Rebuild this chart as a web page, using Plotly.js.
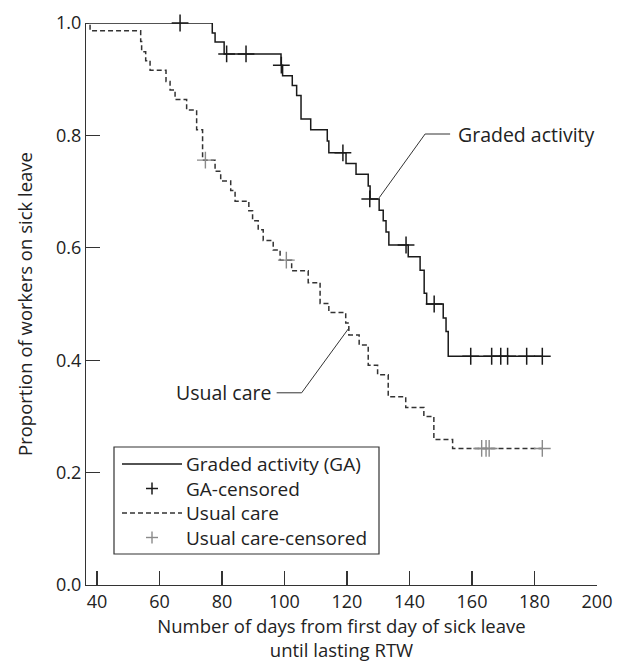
<!DOCTYPE html>
<html>
<head>
<meta charset="utf-8">
<script src="https://cdn.plot.ly/plotly-3.0.1.min.js"></script>
<style>html,body{margin:0;padding:0;background:#fff;}#chart{width:617px;height:663px;}</style>
</head>
<body>
<div id="chart"></div>
<script>
// ---- Data ----
const gaTime = [0, 76.9, 77.8, 80.7, 98.9, 99.4, 102.5, 103.9, 105.3, 108.4, 113.7, 114.2, 119.7, 122.9, 126.8, 127.4, 130.3, 131.6, 132.5, 133.4, 139.6, 143.4, 144.7, 145.5, 150.8, 151.7, 152.4, 182.5];
const gaSurv = [1.0, 0.982, 0.966, 0.945, 0.925, 0.906, 0.889, 0.871, 0.829, 0.810, 0.790, 0.769, 0.750, 0.731, 0.710, 0.687, 0.667, 0.648, 0.628, 0.605, 0.584, 0.560, 0.519, 0.500, 0.475, 0.451, 0.407, 0.407];
const gaCensTime = [66.6, 81.5, 87.7, 99.0, 118.7, 127.3, 138.9, 147.9, 159.6, 166.3, 169.2, 171.4, 177.5, 182.5];
const gaCensSurv = [1.0, 0.945, 0.945, 0.925, 0.769, 0.687, 0.605, 0.500, 0.407, 0.407, 0.407, 0.407, 0.407, 0.407];

const ucTime = [0, 37.8, 54.0, 54.3, 55.6, 57.0, 62.1, 63.4, 65.0, 68.7, 71.9, 73.8, 77.8, 79.6, 82.8, 84.2, 88.6, 89.8, 91.6, 93.2, 96.4, 98.6, 102.3, 107.6, 111.4, 114.2, 119.6, 120.6, 123.9, 126.8, 129.8, 133.2, 138.8, 144.6, 147.8, 153.8, 182.5];
const ucSurv = [1.0, 0.986, 0.967, 0.949, 0.933, 0.916, 0.896, 0.881, 0.864, 0.845, 0.810, 0.756, 0.736, 0.719, 0.702, 0.683, 0.666, 0.648, 0.632, 0.613, 0.596, 0.578, 0.559, 0.538, 0.501, 0.485, 0.466, 0.445, 0.427, 0.391, 0.374, 0.335, 0.316, 0.300, 0.259, 0.243, 0.243];
const ucCensTime = [74.7, 100.6, 163.1, 164.5, 165.5, 182.5];
const ucCensSurv = [0.756, 0.578, 0.243, 0.243, 0.243, 0.243];

const xTicks = [40, 60, 80, 100, 120, 140, 160, 180, 200];
const yTicks = [0, 0.2, 0.4, 0.6, 0.8, 1.0];
const yTickText = ['0.0', '0.2', '0.4', '0.6', '0.8', '1.0'];

const legendLabels = ['Graded activity (GA)', 'GA-censored', 'Usual care', 'Usual care-censored'];

// ---- Styling / layout ----
const FONT = '"Open Sans", Lato, sans-serif';
const FS = 18.5;   // axis titles
const FT = 18;     // tick labels
const FA = 19.5;   // labels
const FL = 19;     // legend text
const TXT = '#222';
const ML = 86, MR = 20, MT = 23, MB = 78, W = 617, H = 663;
const PW = W - ML - MR, PH = H - MT - MB;
const px = p => (p - ML) / PW;
const py = p => (H - MB - p) / PH;

const traces = [
  {x: gaTime, y: gaSurv, mode: 'lines', line: {shape: 'hv', color: '#1a1a1a', width: 1.5}, showlegend: false, hoverinfo: 'skip'},
  {x: ucTime, y: ucSurv, mode: 'lines', line: {shape: 'hv', color: '#333', width: 1.5, dash: '5px,3px'}, showlegend: false, hoverinfo: 'skip'},
  {x: gaCensTime, y: gaCensSurv, mode: 'markers', marker: {symbol: 'cross-thin', size: 12, line: {color: '#1a1a1a', width: 1.5}}, showlegend: false, cliponaxis: false, hoverinfo: 'skip'},
  {x: ucCensTime, y: ucCensSurv, mode: 'markers', marker: {symbol: 'cross-thin', size: 12, line: {color: '#8a8a8a', width: 1.4}}, showlegend: false, cliponaxis: false, hoverinfo: 'skip'}
];

const legendRows = [464, 488.5, 513, 537.5];

const shapes = [
  // label leader lines
  {type: 'path', xref: 'x', yref: 'y', path: 'M130.3,0.689 L145.0,0.8025 L153.0,0.8025', line: {color: '#333', width: 1}},
  {type: 'path', xref: 'x', yref: 'y', path: 'M120.6,0.457 L105.5,0.342 L97.5,0.342', line: {color: '#333', width: 1}},
  // legend box
  {type: 'rect', xref: 'paper', yref: 'paper', x0: px(114), x1: px(379), y0: py(554), y1: py(447), line: {color: '#333', width: 1.2}, fillcolor: 'rgba(255,255,255,1)'},
  // legend samples
  {type: 'line', xref: 'paper', yref: 'paper', x0: px(122), x1: px(182), y0: py(legendRows[0]), y1: py(legendRows[0]), line: {color: '#1a1a1a', width: 1.5}},
  {type: 'line', xref: 'paper', yref: 'paper', x0: px(146), x1: px(158), y0: py(legendRows[1]), y1: py(legendRows[1]), line: {color: '#1a1a1a', width: 1.5}},
  {type: 'line', xref: 'paper', yref: 'paper', x0: px(152), x1: px(152), y0: py(legendRows[1] - 6), y1: py(legendRows[1] + 6), line: {color: '#1a1a1a', width: 1.5}},
  {type: 'line', xref: 'paper', yref: 'paper', x0: px(122), x1: px(182), y0: py(legendRows[2]), y1: py(legendRows[2]), line: {color: '#333', width: 1.5, dash: '5px,3px'}},
  {type: 'line', xref: 'paper', yref: 'paper', x0: px(146), x1: px(158), y0: py(legendRows[3]), y1: py(legendRows[3]), line: {color: '#8a8a8a', width: 1.4}},
  {type: 'line', xref: 'paper', yref: 'paper', x0: px(152), x1: px(152), y0: py(legendRows[3] - 6), y1: py(legendRows[3] + 6), line: {color: '#8a8a8a', width: 1.4}}
];

const annotations = [
  {xref: 'x', yref: 'y', x: 155.0, y: 0.8025, text: 'Graded activity', showarrow: false, xanchor: 'left', yanchor: 'middle', font: {family: FONT, size: FA, color: TXT}},
  {xref: 'x', yref: 'y', x: 96.3, y: 0.342, text: 'Usual care', showarrow: false, xanchor: 'right', yanchor: 'middle', font: {family: FONT, size: FA, color: TXT}},
  {xref: 'paper', yref: 'paper', x: px(184), y: py((legendRows[0] + legendRows[3]) / 2), text: legendLabels.join('<br>'), align: 'left', showarrow: false, xanchor: 'left', yanchor: 'middle', font: {family: FONT, size: FL, color: TXT}}
];

const layout = {
  width: W, height: H,
  margin: {l: ML, r: MR, t: MT, b: MB, pad: 0},
  paper_bgcolor: '#fff', plot_bgcolor: '#fff',
  font: {family: FONT, size: FS, color: TXT},
  showlegend: false,
  xaxis: {
    range: [36.5, 200], tickvals: xTicks, ticks: 'inside', ticklen: 14, tickwidth: 1.2, tickcolor: '#333',
    showline: true, linecolor: '#333', linewidth: 1.2, showgrid: false, zeroline: false,
    tickfont: {family: FONT, size: FT, color: TXT},
    title: {text: 'Number of days from first day of sick leave<br>until lasting RTW', font: {family: FONT, size: FS, color: TXT}, standoff: 8}
  },
  yaxis: {
    range: [0, 1.0], tickvals: yTicks, ticktext: yTickText, ticks: 'inside', ticklen: 14, tickwidth: 1.2, tickcolor: '#333',
    showline: true, linecolor: '#333', linewidth: 1.2, showgrid: false, zeroline: false,
    tickfont: {family: FONT, size: FT, color: TXT},
    title: {text: 'Proportion of workers on sick leave', font: {family: FONT, size: FS, color: TXT}, standoff: 18}
  },
  shapes: shapes,
  annotations: annotations
};

Plotly.newPlot('chart', traces, layout, {staticPlot: true, displayModeBar: false});
</script>
</body>
</html>
